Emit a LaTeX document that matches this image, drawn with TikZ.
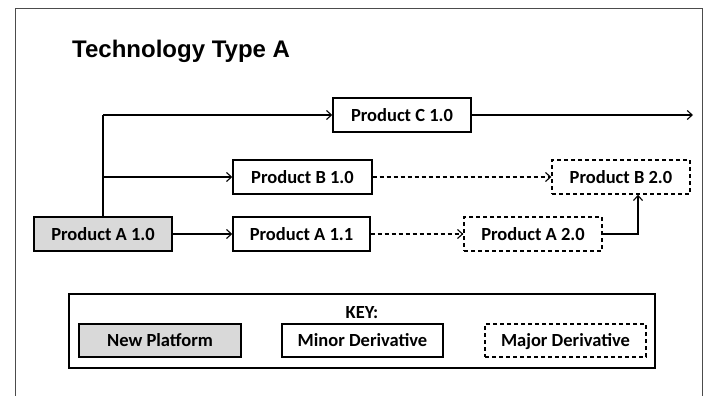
\documentclass[tikz,border=0pt]{standalone}
\usepackage{fontspec}
\setmainfont{Carlito}
\newfontfamily\titlefont{Liberation Sans}
\usetikzlibrary{arrows.meta}
\definecolor{platgray}{HTML}{D9D9D9}
\tikzset{
  prodbox/.style={draw=black, line width=1.4pt, minimum height=34pt, inner sep=0pt,
    text height=12pt, text depth=0pt,
    font=\bfseries\fontsize{18.5}{22}\selectfont, text=black},
  newplat/.style={prodbox, fill=platgray},
  minorder/.style={prodbox, fill=white},
  majorder/.style={prodbox, fill=white, dash pattern=on 4pt off 3pt},
  link/.style={line width=1.3pt, -{Straight Barb[length=5pt,width=9pt,line width=1.1pt]}},
  dlink/.style={link, dash pattern=on 4pt off 3pt},
}
\begin{document}
\begin{tikzpicture}[x=1pt,y=-1pt]
\useasboundingbox (0,0) rectangle (712,396);
% outer frame (open at the bottom)
\draw[line width=1pt, black!70] (15,396) -- (15,9) -- (702,9) -- (702,396);
% title
\node[anchor=base west, inner sep=0pt, font=\titlefont\bfseries\fontsize{24}{28}\selectfont] (title) at (72,58) {Technology Type A};

% product boxes
\node[newplat, minimum width=138pt] (a10) at (103,234) {Product A 1.0};
\node[minorder, minimum width=137pt] (a11) at (301.5,234) {Product A 1.1};
\node[majorder, minimum width=138pt] (a20) at (533,234) {Product A 2.0};
\node[minorder, minimum width=139pt] (b10) at (302.5,177) {Product B 1.0};
\node[majorder, minimum width=138pt] (b20) at (621,177) {Product B 2.0};
\node[minorder, minimum width=138pt] (c10) at (402,115) {Product C 1.0};
\coordinate (cend) at (693,115);

% connectors
\coordinate (trunk) at (a10.north |- c10.west);
\coordinate (bjoin) at (a10.north |- b10.west);
\draw[line width=1.3pt] (a10.north) -- (trunk);
\draw[link] (trunk) -- (c10.west);
\draw[link] (bjoin) -- (b10.west);
\draw[link] (c10.east) -- (cend);
\draw[link] (a10.east) -- (a11.west);
\draw[dlink] (a11.east) -- (a20.west);
\draw[dlink] (b10.east) -- (b20.west);
\coordinate (abend) at (638,234);
\draw[link] (a20.east) -- (abend) -- (abend |- b20.south);

% key
\node[draw=black, line width=2.4pt, minimum width=586pt, minimum height=74pt, inner sep=0pt] (key) at (362,331) {};
\node[anchor=base, inner sep=0pt, font=\bfseries\fontsize{18.5}{22}\selectfont] (keytitle) at (362,318) {KEY:};
\node[newplat, minimum width=162pt, minimum height=33pt] (knew) at (160,340.5) {New Platform};
\node[minorder, minimum width=161pt, minimum height=33pt] (kminor) at (362.5,340.5) {Minor Derivative};
\node[majorder, minimum width=161pt, minimum height=33pt] (kmajor) at (565.5,340.5) {Major Derivative};
\end{tikzpicture}
\end{document}
